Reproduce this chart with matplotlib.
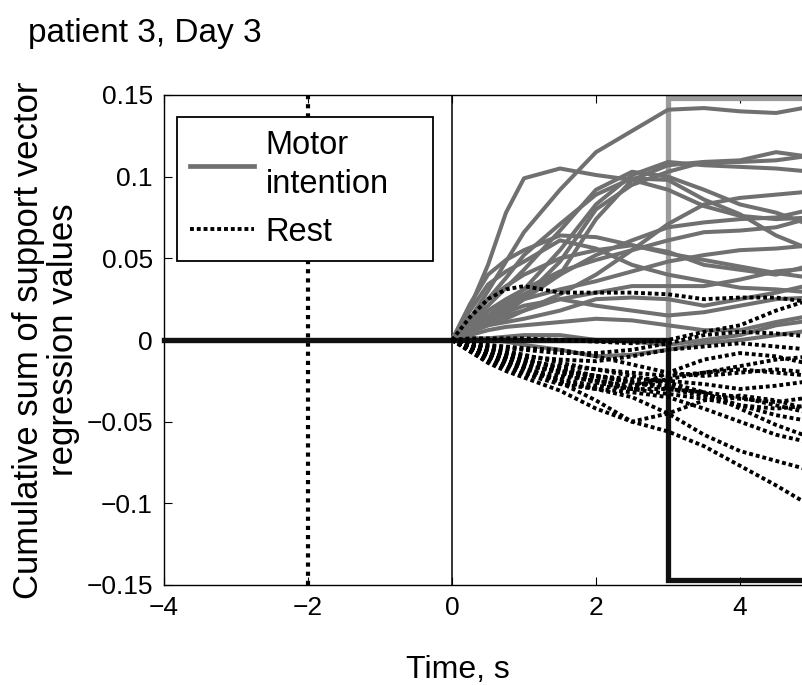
import matplotlib
matplotlib.use("Agg")
import matplotlib.pyplot as plt
from matplotlib.lines import Line2D

plt.rcParams['font.family'] = ['Liberation Sans', 'DejaVu Sans']

# ---------------- data ----------------
t = [0, 0.25, 0.5, 0.75, 1.0, 1.5, 2.0, 2.5, 3.0, 3.5, 4.0, 4.5, 5.0]

motor_traces = [
    [0, 0.013, 0.030, 0.048, 0.066, 0.092, 0.115, 0.128, 0.141, 0.142, 0.140, 0.139, 0.143],
    [0, 0.020, 0.046, 0.078, 0.099, 0.105, 0.101, 0.098, 0.092, 0.082, 0.076, 0.074, 0.075],
    [0, 0.005, 0.010, 0.017, 0.025, 0.040, 0.074, 0.098, 0.107, 0.109, 0.110, 0.115, 0.112],
    [0, 0.006, 0.012, 0.019, 0.026, 0.048, 0.080, 0.095, 0.103, 0.109, 0.109, 0.110, 0.113],
    [0, 0.008, 0.015, 0.023, 0.031, 0.055, 0.083, 0.101, 0.109, 0.107, 0.106, 0.105, 0.103],
    [0, 0.011, 0.021, 0.032, 0.043, 0.067, 0.092, 0.103, 0.100, 0.092, 0.083, 0.078, 0.070],
    [0, 0.008, 0.015, 0.022, 0.028, 0.040, 0.052, 0.061, 0.069, 0.072, 0.074, 0.075, 0.080],
    [0, 0.022, 0.040, 0.049, 0.055, 0.064, 0.063, 0.058, 0.053, 0.049, 0.045, 0.041, 0.038],
    [0, 0.018, 0.034, 0.042, 0.048, 0.061, 0.056, 0.046, 0.040, 0.036, 0.032, 0.031, 0.029],
    [0, 0.009, 0.018, 0.025, 0.031, 0.042, 0.049, 0.055, 0.061, 0.066, 0.067, 0.069, 0.075],
    [0, 0.013, 0.025, 0.033, 0.040, 0.050, 0.055, 0.058, 0.054, 0.046, 0.043, 0.040, 0.046],
    [0, 0.007, 0.012, 0.015, 0.018, 0.025, 0.029, 0.033, 0.033, 0.033, 0.037, 0.042, 0.044],
    [0, 0.005, 0.009, 0.011, 0.013, 0.018, 0.025, 0.026, 0.025, 0.021, 0.025, 0.029, 0.034],
    [0, 0.007, 0.013, 0.017, 0.021, 0.025, 0.021, 0.018, 0.015, 0.017, 0.021, 0.025, 0.026],
    [0, 0.003, 0.006, 0.008, 0.009, 0.011, 0.013, 0.012, 0.009, 0.006, 0.006, 0.011, 0.015],
    [0, 0.001, 0.001, 0.002, 0.003, 0.003, 0.000, -0.001, -0.003, 0.000, 0.003, 0.009, 0.012],
    [0, 0.001, 0.000, -0.001, -0.003, -0.006, -0.010, -0.009, -0.006, -0.002, 0.000, 0.003, 0.006],
    [0, 0.005, 0.009, 0.013, 0.018, 0.028, 0.040, 0.055, 0.071, 0.083, 0.087, 0.089, 0.091],
    [0, 0.012, 0.025, 0.038, 0.052, 0.071, 0.089, 0.099, 0.098, 0.086, 0.077, 0.064, 0.055],
    [0, 0.008, 0.015, 0.020, 0.025, 0.031, 0.036, 0.042, 0.048, 0.052, 0.055, 0.056, 0.058],
]

rest_traces = [
    [0, 0.014, 0.025, 0.031, 0.033, 0.029, 0.029, 0.029, 0.028, 0.025, 0.026, 0.026, 0.023],
    [0, 0.001, 0.001, 0.001, 0.001, 0.000, -0.001, -0.002, 0.000, 0.005, 0.009, 0.018, 0.025],
    [0, -0.007, -0.014, -0.019, -0.023, -0.031, -0.042, -0.050, -0.056, -0.065, -0.077, -0.089, -0.102],
    [0, -0.005, -0.009, -0.013, -0.017, -0.026, -0.037, -0.050, -0.045, -0.037, -0.034, -0.037, -0.043],
    [0, -0.002, -0.004, -0.005, -0.006, -0.008, -0.008, -0.006, -0.002, 0.003, 0.005, 0.004, 0.002],
    [0, -0.003, -0.006, -0.008, -0.010, -0.012, -0.013, -0.010, -0.006, -0.004, -0.002, -0.004, -0.006],
    [0, -0.004, -0.008, -0.011, -0.013, -0.016, -0.018, -0.020, -0.022, -0.020, -0.016, -0.012, -0.010],
    [0, -0.005, -0.009, -0.012, -0.015, -0.020, -0.022, -0.024, -0.025, -0.027, -0.030, -0.028, -0.025],
    [0, -0.005, -0.010, -0.013, -0.016, -0.019, -0.022, -0.026, -0.030, -0.034, -0.036, -0.038, -0.035],
    [0, -0.006, -0.011, -0.015, -0.018, -0.022, -0.025, -0.028, -0.024, -0.020, -0.018, -0.020, -0.022],
    [0, -0.006, -0.012, -0.016, -0.020, -0.024, -0.028, -0.030, -0.030, -0.032, -0.035, -0.040, -0.045],
    [0, -0.004, -0.007, -0.010, -0.012, -0.017, -0.022, -0.026, -0.028, -0.033, -0.040, -0.046, -0.050],
    [0, -0.003, -0.005, -0.007, -0.009, -0.014, -0.018, -0.022, -0.026, -0.032, -0.042, -0.052, -0.060],
    [0, -0.007, -0.013, -0.017, -0.021, -0.027, -0.030, -0.032, -0.035, -0.042, -0.050, -0.058, -0.063],
    [0, -0.005, -0.010, -0.014, -0.017, -0.025, -0.030, -0.035, -0.045, -0.058, -0.068, -0.074, -0.080],
    [0, -0.004, -0.008, -0.011, -0.014, -0.020, -0.026, -0.030, -0.020, -0.012, -0.008, -0.010, -0.015],
    [0, -0.002, -0.003, -0.004, -0.005, -0.006, -0.010, -0.015, -0.020, -0.022, -0.020, -0.018, -0.020],
    [0, -0.003, -0.006, -0.009, -0.011, -0.018, -0.024, -0.030, -0.033, -0.036, -0.040, -0.042, -0.040],
]

target_t = [-4, 3, 3, 8, 8]
motor_target = [0, 0, 0.148, 0.148, 0]
rest_target = [0, 0, -0.147, -0.147, 0]

cue_time = -2
onset_time = 0

xticks = [-4, -2, 0, 2, 4]
xtick_labels = ['\u22124', '\u22122', '0', '2', '4']
yticks = [-0.15, -0.1, -0.05, 0, 0.05, 0.1, 0.15]
ytick_labels = ['\u22120.15', '\u22120.1', '\u22120.05', '0', '0.05', '0.1', '0.15']

title = 'patient 3, Day 3'
xlabel = 'Time, s'
ylabel = 'Cumulative sum of support vector\nregression values'
legend_labels = ['Motor\nintention', 'Rest']

# ---------------- figure ----------------
W, H = 803, 685
fig = plt.figure(figsize=(W / 100, H / 100), dpi=100)
ax = fig.add_axes([164 / W, 100 / H, 864 / W, 490 / H])
ax.set_xlim(-4, 8)
ax.set_ylim(-0.15, 0.15)

gray = '#707070'
dot_style = dict(color='black', lw=2.8, linestyle=(0, (1.0, 0.75)), dash_capstyle='butt')

ax.plot(target_t, motor_target, color='#9b9b9b', lw=3.8, clip_on=False, zorder=2,
        solid_joinstyle='miter')

for tr in motor_traces:
    ax.plot(t, tr, color=gray, lw=2.9, zorder=3, solid_capstyle='round',
            solid_joinstyle='round')

ax.plot(target_t, rest_target, color='#111111', lw=3.8, clip_on=False, zorder=4,
        solid_joinstyle='miter')

for tr in rest_traces:
    ax.plot(t, tr, zorder=5, **dot_style)

ax.axvline(cue_time, color='black', lw=3.0, linestyle=(0, (1.0, 1.2)), zorder=1)
ax.axvline(onset_time, color='black', lw=1.1, zorder=1)

ax.set_xticks(xticks)
ax.set_xticklabels(xtick_labels)
ax.set_yticks(yticks)
ax.set_yticklabels(ytick_labels)
ax.tick_params(direction='in', length=6, width=0.8, top=True, right=True,
               labelsize=19)
ax.tick_params(axis='y', pad=8)
ax.tick_params(axis='x', pad=8)
for s in ax.spines.values():
    s.set_linewidth(1.0)

handles = [Line2D([], [], color=gray, lw=3.4),
           Line2D([], [], **dot_style)]
leg = fig.legend(handles, legend_labels,
                 loc='upper left',
                 bbox_to_anchor=(177 / W, 1 - 262 / H, 256 / W, 145 / H),
                 mode='expand',
                 bbox_transform=fig.transFigure, fontsize=23.5,
                 fancybox=False, framealpha=1, edgecolor='black',
                 handlelength=1.95, handletextpad=0.37, borderpad=0.4,
                 labelspacing=0.5, borderaxespad=0)
for txt in leg.get_texts():
    txt.set_linespacing(1.35)
leg.get_frame().set_linewidth(1.3)
leg.set_zorder(10)

fig.text(28 / W, 1 - 42 / H, title, fontsize=24, ha='left', va='baseline')
fig.text(458 / W, 1 - 678 / H, xlabel, fontsize=23, ha='center', va='baseline')
fig.text(46 / W, 1 - 340 / H, ylabel, fontsize=25, rotation=90,
         ha='center', va='center', multialignment='center', linespacing=1.1)

fig.savefig('out.png', dpi=100)
